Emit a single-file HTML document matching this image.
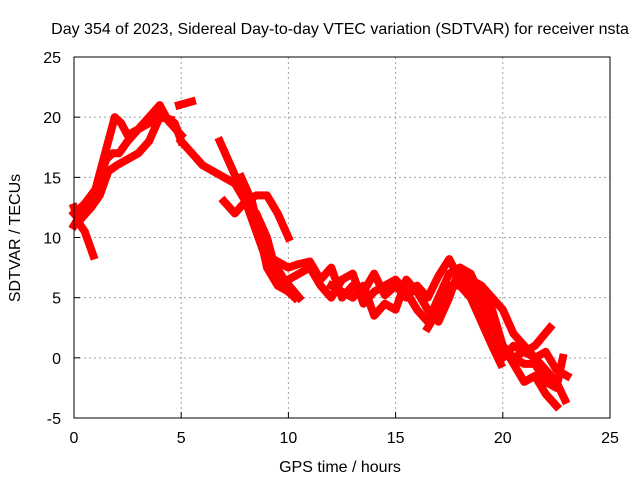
<!DOCTYPE html>
<html><head><meta charset="utf-8"><style>
body{margin:0;background:#fff;}
svg text{font-family:"Liberation Sans",sans-serif;font-size:16px;fill:#000;}
</style></head><body>
<svg id="c" width="640" height="480">
<text x="340" y="34" text-anchor="middle">Day 354 of 2023, Sidereal Day-to-day VTEC variation (SDTVAR) for receiver nsta</text>
<text x="340" y="472" text-anchor="middle">GPS time / hours</text>
<text transform="translate(20,238) rotate(-90)" text-anchor="middle">SDTVAR / TECUs</text>
<g id="grid"></g><g id="marks"></g><g id="axes"></g>
</svg>
<script>
const xTicks=[0,5,10,15,20,25];
const yTicks=[-5,0,5,10,15,20,25];
const track1=[[0,12.5],[0.3,11],[0.5,10.5],[0.7,9.5],[0.9,8.5]];
const track2=[[0,11],[0.5,12.5],[1,13.5],[1.5,16.5],[1.8,17],[2.1,17],[2.5,18],[3,19],[3.5,20],[4,21],[4.3,20],[4.7,19.5],[5,18]];
const track3=[[0,12],[0.5,12.8],[1,14],[1.3,16],[1.6,18],[1.9,20],[2.2,19.5],[2.5,18.5],[3,19],[3.5,19.5],[4,20.5],[4.5,19.5],[5,18.5]];
const track4=[[0.3,11.5],[0.8,12.5],[1.2,13.5],[1.6,15.5],[2,16],[2.5,16.5],[3,17],[3.5,18],[4,20],[4.5,19.8]];
const track5=[[4.9,21],[5.5,21.3]];
const track6=[[5,18],[5.5,17],[6,16],[6.5,15.5],[7,15],[7.5,14.5],[8,13],[8.5,12],[9,10],[9.3,8],[9.8,6.5],[10.5,5]];
const track7=[[6.8,18],[7.3,16],[7.8,14],[8.2,12],[8.6,10],[9,8],[9.4,6.5],[10,5.5]];
const track8=[[7,13],[7.5,12],[8,13],[8.5,13.5],[9,13.5],[9.5,12],[10,10]];
const track9=[[7.8,15],[8.3,13],[8.7,10],[9,7.5],[9.5,6],[10,5.5],[10.3,5]];
const track10=[[9.5,8],[10,7.5],[10.5,7.8],[11,8],[11.5,6.5],[12,7.5],[12.5,5],[13,6],[13.5,5.5],[14,7],[14.5,5.2],[15,6],[15.5,5],[16,6],[16.5,5],[17,6.8],[17.5,8.2],[18,6.5],[18.5,6],[19,5.5],[19.5,4],[20,1],[20.5,-0.5],[21,-2],[21.5,-1.5],[22,-3],[22.5,-4]];
const track11=[[10,6.5],[10.5,7],[11,7.5],[11.5,6],[12,5],[12.5,6.5],[13,7],[13.5,4.5],[14,5.5],[14.5,6],[15,6.5],[15.5,5.5],[16,4],[16.5,3],[17,5],[17.5,7],[18,7.5],[18.5,6.5],[19,6],[19.5,5],[20,4],[20.5,2],[21,1],[21.5,0],[22,-1],[22.5,-2],[22.9,-3.5]];
const track12=[[12,6],[12.5,5.5],[13,5],[13.5,6],[14,3.5],[14.5,4.5],[15,4],[15.5,6.5],[16,5.5],[16.5,4],[17,3],[17.5,5],[18,7.5],[18.5,7],[19,5],[19.5,3],[20,0],[20.5,1],[21,0.5],[21.5,0],[22,0.5],[22.5,-1],[23,-1.5]];
const track13=[[16.5,2.5],[17,4],[17.5,6],[18,6],[18.5,5],[19,3],[19.5,1],[19.9,-0.5]];
const track14=[[20.5,0],[21,0.5],[21.5,1],[22.2,2.5]];
const track15=[[18.5,5.5],[19,4],[19.5,2.5],[20,1],[20.5,0],[21,-0.5],[21.5,-0.5],[22,-2],[22.5,-2.5],[22.8,0]];
const tracks=[track1,track2,track3,track4,track5,track6,track7,track8,track9,track10,track11,track12,track13,track14,track15];

const L=74,R=610,T=57,B=418;
const sx=v=>L+(v-0)/25*(R-L);
const sy=v=>B-(v+5)/30*(B-T);
const NS="http://www.w3.org/2000/svg";
function mk(tag,attrs,parent){const e=document.createElementNS(NS,tag);for(const k in attrs)e.setAttribute(k,attrs[k]);parent.appendChild(e);return e;}
const grid=document.getElementById('grid'),axes=document.getElementById('axes'),marks=document.getElementById('marks');
xTicks.forEach(t=>{
  if(t>0&&t<25){const g=mk('line',{x1:sx(t),x2:sx(t),y1:T,y2:B,stroke:'#a0a0a0','stroke-dasharray':'2,3'},grid);
  
  }
  const tk=mk('line',{x1:sx(t),x2:sx(t),y1:B,y2:B-6,stroke:'#000'},axes);
  
  
  const tx=mk('text',{x:sx(t),y:B+25,'text-anchor':'middle'},axes);tx.textContent=t;
  
  
});
yTicks.forEach(t=>{
  if(t>-5&&t<25){const g=mk('line',{x1:L,x2:R,y1:sy(t),y2:sy(t),stroke:'#a0a0a0','stroke-dasharray':'2,3'},grid);
  
  }
  const tk=mk('line',{x1:L,x2:L+6,y1:sy(t),y2:sy(t),stroke:'#000'},axes);
  
  
  const tx=mk('text',{x:L-13,y:sy(t)+6,'text-anchor':'end'},axes);tx.textContent=t;
  
  
});
const fr=mk('rect',{x:L,y:T,width:R-L,height:B-T,fill:'none',stroke:'#000'},axes);


tracks.forEach(tr=>{
  const p=mk('polyline',{points:tr.map(d=>sx(d[0])+','+sy(d[1])).join(' '),fill:'none',stroke:'#ff0000','stroke-width':8,'stroke-linejoin':'round','stroke-linecap':'square'},marks);
  
  
});
</script>
</body></html>
